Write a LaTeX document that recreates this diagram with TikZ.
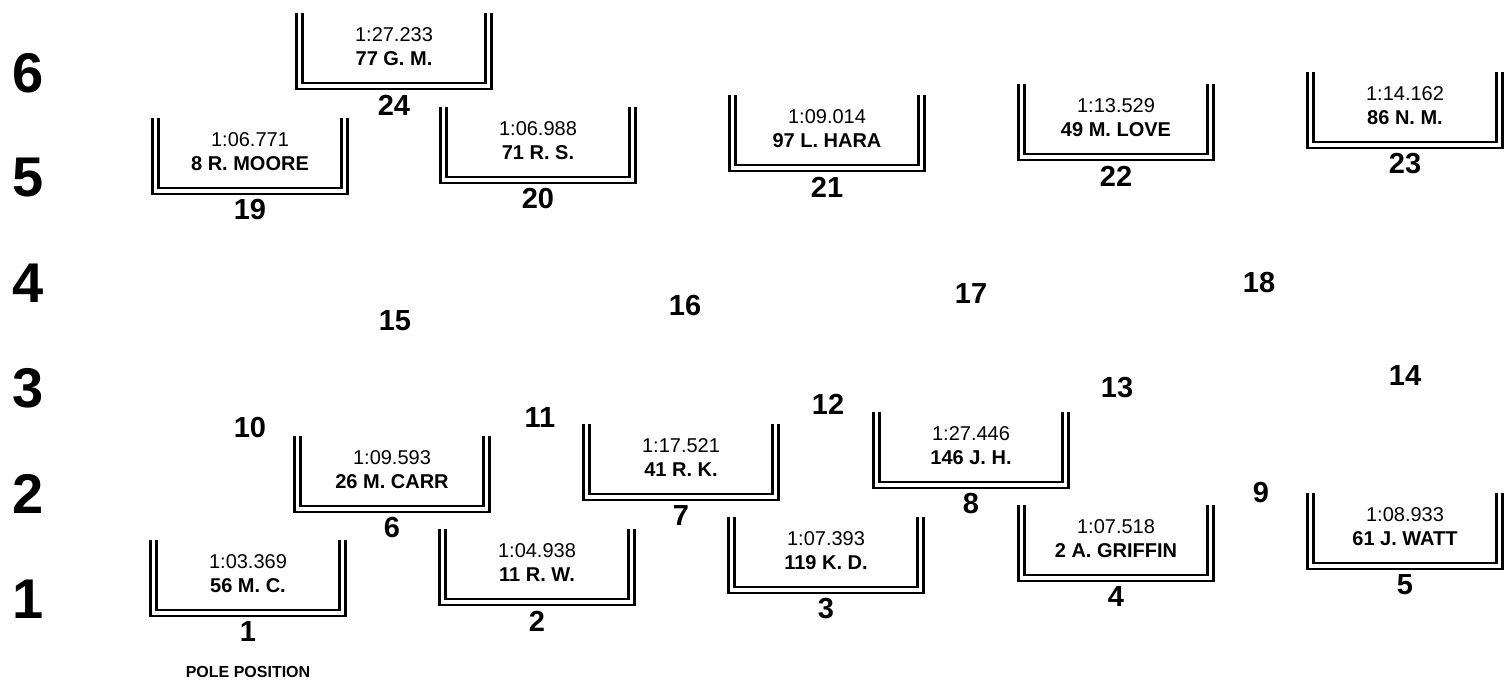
\documentclass[tikz,border=0pt]{standalone}
\usepackage{fontspec}
\setmainfont{Liberation Sans}

\begin{document}
\begin{tikzpicture}[x=0.5pt,y=-0.5pt,
        wall/.style={line width=1.35pt},
        laptime/.style={font=\fontsize{10}{12}\selectfont},
        driver/.style={font=\fontsize{10}{12}\selectfont\bfseries},
        slotno/.style={font=\fontsize{14.5}{17}\selectfont\bfseries},
        rowno/.style={font=\fontsize{28}{32}\selectfont\bfseries}]
        \useasboundingbox (0,0) rectangle (1511,682);

        % row numbers on the left
        \foreach \r/\y in {1/599,2/494,3/388,4/283,5/178,6/73}
            \node[rowno] (row\r) at (28,\y) {\r};

        % occupied grid slots: number/x/top/time/driver
        \foreach \n/\x/\y/\t/\d in {
            1/248/540/1:03.369/56 M. C.,
            2/537/529/1:04.938/11 R. W.,
            3/826/517/1:07.393/119 K. D.,
            4/1116/505/1:07.518/2 A. GRIFFIN,
            5/1405/493/1:08.933/61 J. WATT,
            6/392/436/1:09.593/26 M. CARR,
            7/681/424/1:17.521/41 R. K.,
            8/971/412/1:27.446/146 J. H.,
            19/250/118/1:06.771/8 R. MOORE,
            20/538/107/1:06.988/71 R. S.,
            21/827/95/1:09.014/97 L. HARA,
            22/1116/84/1:13.529/49 M. LOVE,
            23/1405/72/1:14.162/86 N. M.,
            24/394/13/1:27.233/77 G. M.}{
            \draw[wall](\x-97.5,\y)--(\x-97.5,\y+76)--(\x+97.5,\y+76)--(\x+97.5,\y);
            \draw[wall](\x-91.5,\y)--(\x-91.5,\y+70)--(\x+91.5,\y+70)--(\x+91.5,\y);
            \node[laptime] (t\n) at (\x,\y+22) {\t};
            \node[driver] (d\n) at (\x,\y+46) {\d};
            \node[slotno] (p\n) at (\x,\y+92) {\n};
        }

        % empty grid slots
        \foreach \n/\x/\y in {9/1261/493,10/250/428,11/540/418,12/828/404,13/1117/388,
            14/1405/376,15/395/321,16/685/306,17/971/294,18/1259/283}
            \node[slotno] (p\n) at (\x,\y) {\n};

        \node[font=\fontsize{8}{10}\selectfont\bfseries] (pole) at (248,672) {POLE POSITION};
    \end{tikzpicture}
\end{document}
